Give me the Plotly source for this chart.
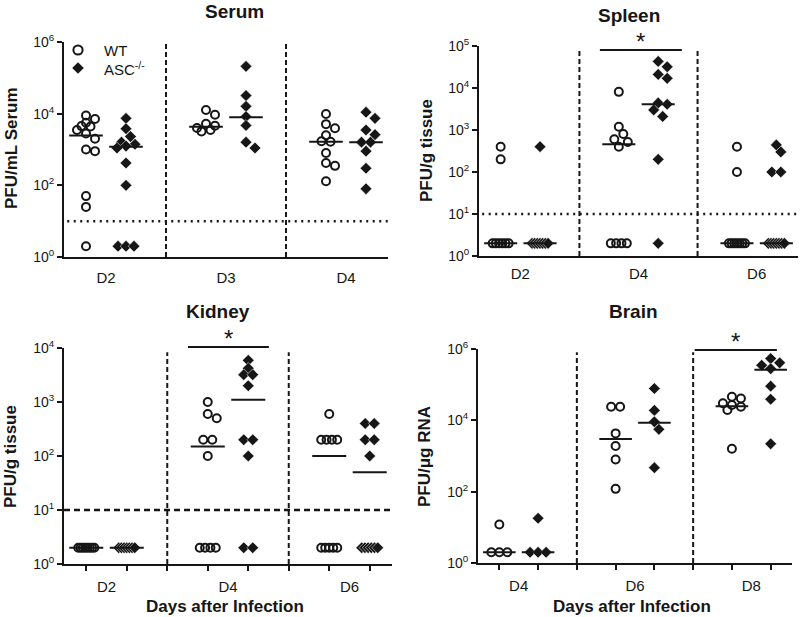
import math
import plotly.graph_objects as go

FONT = "Liberation Sans, Arial, Helvetica, sans-serif"
INK = "#161616"
W, H = 800, 617

# ---------------- data (PFU values; 2 = below detection) ----------------
SERUM_DAYS = ["D2", "D3", "D4"]
serum_wt_d2 = [8900, 7100, 5600, 4500, 4400, 3500, 2800, 2000, 1000, 900, 50, 25, 2]
serum_asc_d2 = [7400, 3800, 2300, 1600, 1400, 1250, 1100, 420, 100, 2, 2, 2]
serum_wt_d3 = [12600, 9300, 5200, 4600, 4000, 3500, 3200]
serum_asc_d3 = [209000, 32000, 16000, 8300, 4700, 1600, 1100]
serum_wt_d4 = [9800, 5100, 3900, 2500, 1700, 1650, 800, 420, 350, 130]
serum_asc_d4 = [11000, 7400, 3500, 2600, 1600, 1600, 900, 300, 80]
serum_wt_mid = [2450, 4300, 1650]
serum_asc_mid = [1200, 8000, 1600]

SPLEEN_DAYS = ["D2", "D4", "D6"]
spleen_wt_d2 = [400, 200, 2, 2, 2, 2, 2, 2]
spleen_asc_d2 = [400, 2, 2, 2, 2, 2, 2, 2]
spleen_wt_d4 = [8100, 1200, 800, 600, 520, 400, 2, 2, 2, 2]
spleen_asc_d4 = [43000, 32000, 21000, 17000, 4400, 4100, 3000, 2100, 200, 2]
spleen_wt_d6 = [400, 100, 2, 2, 2, 2, 2, 2, 2]
spleen_asc_d6 = [440, 300, 100, 100, 2, 2, 2, 2, 2, 2, 2]
spleen_wt_mid = [2, 460, 2]
spleen_asc_mid = [2, 4100, 2]

KIDNEY_DAYS = ["D2", "D4", "D6"]
kidney_wt_d2 = [2, 2, 2, 2, 2, 2, 2, 2]
kidney_asc_d2 = [2, 2, 2, 2, 2, 2, 2]
kidney_wt_d4 = [1000, 600, 500, 200, 200, 100, 2, 2, 2, 2]
kidney_asc_d4 = [5900, 4200, 3200, 3200, 2000, 200, 200, 100, 2, 2]
kidney_wt_d6 = [600, 200, 200, 200, 200, 2, 2, 2, 2, 2]
kidney_asc_d6 = [400, 400, 200, 200, 100, 2, 2, 2, 2, 2, 2]
kidney_wt_mid = [2, 150, 100]
kidney_asc_mid = [2, 1100, 50]

BRAIN_DAYS = ["D4", "D6", "D8"]
brain_wt_d4 = [12, 2, 2, 2]
brain_asc_d4 = [18, 2, 2, 2]
brain_wt_d6 = [24000, 24000, 4300, 1900, 800, 120]
brain_asc_d6 = [78000, 19000, 9100, 5600, 470]
brain_wt_d8 = [46000, 41000, 30000, 27000, 24000, 19500, 1600]
brain_asc_d8 = [540000, 410000, 350000, 280000, 91000, 39000, 2200]
brain_wt_mid = [2, 3000, 25000]
brain_asc_mid = [2, 8500, 260000]

LOD = 10
LEGEND_NAMES = ["WT", "ASC<sup>-/-</sup>"]

# ---------------- layout constants ----------------
XR = [-0.55, 7.55]
panels = [
    dict(title="Serum", ytitle="PFU/mL Serum", days=SERUM_DAYS,
         wt=[serum_wt_d2, serum_wt_d3, serum_wt_d4], asc=[serum_asc_d2, serum_asc_d3, serum_asc_d4],
         wtm=serum_wt_mid, ascm=serum_asc_mid, ndec=6, tickdec=[0, 2, 4, 6],
         box=(64, 388, 42, 257), lod="dot", sep_top=1.0, sig=None, bottom=False, standoff=6,
         title_xy=(234, 12), ytitle_xy=(11, 148)),
    dict(title="Spleen", ytitle="PFU/g tissue", days=SPLEEN_DAYS,
         wt=[spleen_wt_d2, spleen_wt_d4, spleen_wt_d6], asc=[spleen_asc_d2, spleen_asc_d4, spleen_asc_d6],
         wtm=spleen_wt_mid, ascm=spleen_asc_mid, ndec=5, tickdec=[0, 1, 2, 3, 4, 5],
         box=(479, 798, 46, 256), lod="dot", sep_top=0.98, sig=(2.52, 4.6, 50), bottom=False, standoff=3,
         title_xy=(629, 15), ytitle_xy=(426, 151)),
    dict(title="Kidney", ytitle="PFU/g tissue", days=KIDNEY_DAYS,
         wt=[kidney_wt_d2, kidney_wt_d4, kidney_wt_d6], asc=[kidney_asc_d2, kidney_asc_d4, kidney_asc_d6],
         wtm=kidney_wt_mid, ascm=kidney_asc_mid, ndec=4, tickdec=[0, 1, 2, 3, 4],
         box=(64, 392, 348, 564), lod="dash", sep_top=0.98, sig=(2.51, 4.51, 347), bottom=True, standoff=8,
         title_xy=(218, 312), ytitle_xy=(11, 457)),
    dict(title="Brain", ytitle="PFU/\u03bcg RNA", days=BRAIN_DAYS,
         wt=[brain_wt_d4, brain_wt_d6, brain_wt_d8], asc=[brain_asc_d4, brain_asc_d6, brain_asc_d8],
         wtm=brain_wt_mid, ascm=brain_asc_mid, ndec=6, tickdec=[0, 2, 4, 6],
         box=(478, 792, 349, 563), lod=None, sep_top=0.985, sig=(5.04, 7.16, 350), bottom=True, standoff=8,
         title_xy=(633, 312), ytitle_xy=(425, 457)),
]


def swarm(vals, ppu, ppd, diam=9.0, maxhalf=9.0, tiehalf=8.0):
    """Simple beeswarm: returns horizontal offsets (in axis units)."""
    n = len(vals)
    ys = [math.log10(v) * ppd for v in vals]
    order = sorted(range(n), key=lambda i: -vals[i])
    groups = []
    for i in order:
        if groups and abs(ys[groups[-1][0]] - ys[i]) < 0.6:
            groups[-1].append(i)
        else:
            groups.append([i])
    off = [0.0] * n
    placed = []
    for g in groups:
        if len(g) > 1:
            k = len(g)
            step = min(diam, 2 * tiehalf / (k - 1))
            for j, i in enumerate(g):
                off[i] = (j - (k - 1) / 2) * step
                placed.append((off[i], ys[i]))
    s = diam / 2
    cands = [0.0]
    for m in range(1, 6):
        cands += [m * s, -m * s]
    cands = [c for c in cands if abs(c) <= maxhalf + 1e-9]
    for g in groups:
        if len(g) == 1:
            i = g[0]
            best, bestd, bestc = None, -1, 0.0
            for c in cands:
                d = min([math.hypot(c - px, ys[i] - py) for px, py in placed] or [1e9])
                if d >= diam * 0.9:
                    best = c
                    break
                if d > bestd:
                    bestd, bestc = d, c
            if best is None:
                best = bestc
            off[i] = best
            placed.append((best, ys[i]))
    return [o / ppu for o in off]


def px(x):
    return x / W


def py(y):
    return 1 - y / H


fig = go.Figure()
layout = dict(width=W, height=H, margin=dict(l=0, r=0, t=0, b=0, autoexpand=False),
              paper_bgcolor="white", plot_bgcolor="white",
              font=dict(family=FONT, color=INK, size=14),
              showlegend=False, shapes=[], annotations=[])

for k, p in enumerate(panels):
    sfx = "" if k == 0 else str(k + 1)
    xa, ya = "x" + sfx, "y" + sfx
    x0, x1, y0, y1 = p["box"]
    ppu = (x1 - x0) / (XR[1] - XR[0])
    ppd = (y1 - y0) / p["ndec"]

    # scatter points
    for gi, (key, sym) in enumerate([("wt", "circle-open"), ("asc", "diamond")]):
        xs, ysv = [], []
        for d, vals in enumerate(p[key]):
            base = 3 * d + gi
            offs = swarm(vals, ppu, ppd)
            xs += [base + o for o in offs]
            ysv += list(vals)
        if sym == "circle-open":
            marker = dict(symbol=sym, size=8, color=INK, line=dict(width=2, color=INK))
        else:
            marker = dict(symbol=sym, size=9, color=INK, line=dict(width=0.5, color="white"))
        fig.add_trace(go.Scatter(x=xs, y=ysv, mode="markers", marker=marker, name=LEGEND_NAMES[gi],
                                 xaxis=xa, yaxis=ya, hoverinfo="skip", cliponaxis=False))
        # median / central lines
        mk = "wtm" if key == "wt" else "ascm"
        lx, ly = [], []
        for d, m in enumerate(p[mk]):
            base = 3 * d + gi
            lx += [base - 0.42, base + 0.42, None]
            ly += [m, m, None]
        fig.add_trace(go.Scatter(x=lx, y=ly, mode="lines", line=dict(color=INK, width=2),
                                 xaxis=xa, yaxis=ya, hoverinfo="skip"))

    xkey = "xaxis" + sfx
    ykey = "yaxis" + sfx
    xax = dict(domain=[x0 / W, x1 / W], anchor=ya, range=XR, tickvals=[0.5, 3.5, 6.5], ticktext=p["days"],
               ticks="", showline=True, linewidth=2, linecolor=INK, showgrid=False, zeroline=False,
               tickfont=dict(size=15, color=INK), fixedrange=True, automargin=False,
               ticklabelstandoff=p["standoff"])
    if p["bottom"]:
        xax["minor"] = dict(tickvals=list(range(8)), ticks="outside", ticklen=5, tickwidth=1.5, tickcolor=INK)
    layout[xkey] = xax
    layout[ykey] = dict(domain=[1 - y1 / H, 1 - y0 / H], anchor=xa, type="log", range=[0, p["ndec"]],
                        tickvals=[10 ** t for t in p["tickdec"]],
                        ticktext=["10<sup>%d</sup>" % t for t in p["tickdec"]],
                        ticks="outside", ticklen=5, tickwidth=2, tickcolor=INK,
                        showline=True, linewidth=2, linecolor=INK, showgrid=False, zeroline=False,
                        tickfont=dict(size=14, color=INK), fixedrange=True, automargin=False)

    # separators between days
    for sp in (2, 5):
        layout["shapes"].append(dict(type="line", xref=xa, yref=ya + " domain", x0=sp, x1=sp, y0=0,
                                     y1=p["sep_top"], line=dict(color=INK, width=2, dash="5px,3px")))
    # limit of detection
    if p["lod"] == "dot":
        layout["shapes"].append(dict(type="line", xref=xa + " domain", yref=ya, x0=0.01, x1=1,
                                     y0=LOD, y1=LOD,
                                     line=dict(color=INK, width=2.5, dash="2px,4.5px")))
    elif p["lod"] == "dash":
        layout["shapes"].append(dict(type="line", xref=xa + " domain", yref=ya, x0=0, x1=1,
                                     y0=LOD, y1=LOD,
                                     line=dict(color=INK, width=2.5, dash="6px,4px")))
    # significance bar
    if p["sig"]:
        sa, sb, spx = p["sig"]
        yd = (y1 - spx) / (y1 - y0)
        layout["shapes"].append(dict(type="line", xref=xa, yref=ya + " domain", x0=sa, x1=sb, y0=yd, y1=yd,
                                     line=dict(color=INK, width=2)))
        layout["annotations"].append(dict(text="*", xref=xa, yref="paper", x=(sa + sb) / 2,
                                          y=py(spx + 7), xanchor="center", yanchor="bottom",
                                          showarrow=False, font=dict(size=24, color=INK, family=FONT)))
    # titles
    tx, ty = p["title_xy"]
    layout["annotations"].append(dict(text="<b>%s</b>" % p["title"], xref="paper", yref="paper",
                                      x=px(tx), y=py(ty), xanchor="center", yanchor="middle",
                                      showarrow=False, font=dict(size=19, color=INK, family=FONT)))
    ux, uy = p["ytitle_xy"]
    layout["annotations"].append(dict(text="<b>%s</b>" % p["ytitle"], xref="paper", yref="paper",
                                      x=px(ux), y=py(uy), xanchor="center", yanchor="middle",
                                      showarrow=False, textangle=-90,
                                      font=dict(size=17, color=INK, family=FONT)))
    if p["bottom"]:
        layout["annotations"].append(dict(text="<b>Days after Infection</b>", xref="paper", yref="paper",
                                          x=px((x0 + x1) / 2 - 3), y=py(606),
                                          xanchor="center", yanchor="middle", showarrow=False,
                                          font=dict(size=17, color=INK, family=FONT)))

# ---------------- legend (drawn by hand in the Serum panel) ----------------
lgx, lgy = 78, 50
r = 4.6
layout["shapes"].append(dict(type="circle", xref="paper", yref="paper",
                             x0=px(lgx - r), x1=px(lgx + r), y0=py(lgy + r), y1=py(lgy - r),
                             line=dict(color=INK, width=2), fillcolor="rgba(0,0,0,0)"))
d = 5.8
cy = lgy + 18
layout["shapes"].append(dict(type="path", xref="paper", yref="paper",
                             path="M %f,%f L %f,%f L %f,%f L %f,%f Z" % (
                                 px(lgx), py(cy - d), px(lgx + d), py(cy), px(lgx), py(cy + d), px(lgx - d), py(cy)),
                             line=dict(color=INK, width=0), fillcolor=INK))
for j, nm in enumerate(LEGEND_NAMES):
    layout["annotations"].append(dict(text=nm, xref="paper", yref="paper", x=px(102), y=py(lgy + 18 * j),
                                      xanchor="left", yanchor="middle", showarrow=False,
                                      font=dict(size=15, color=INK, family=FONT)))

fig.update_layout(**layout)
fig.write_html("out.html", config={"displayModeBar": False},
               post_script="document.body.style.margin='0px';document.body.style.overflow='hidden';")
